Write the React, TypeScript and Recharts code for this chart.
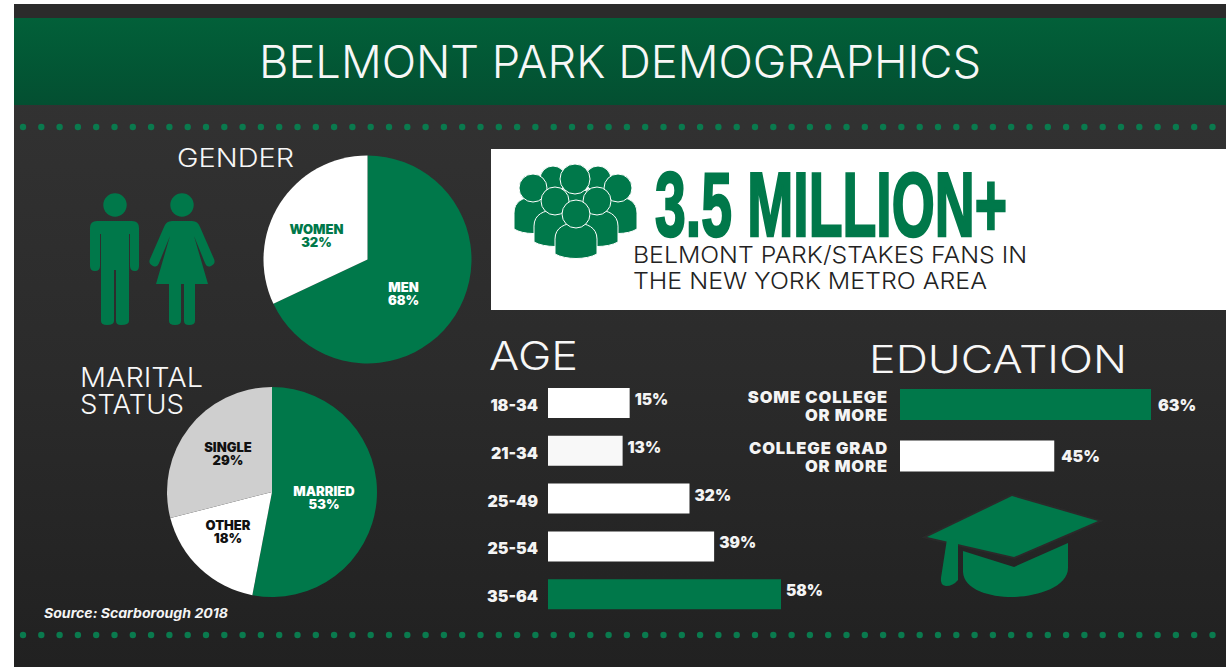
import React from "react";
import { PieChart, Pie, Cell, BarChart, Bar, XAxis, YAxis, LabelList } from "recharts";

const GENDER_NAMES = ["MEN", "WOMEN"];
const GENDER_VALUES = [68, 32];
const MARITAL_NAMES = ["MARRIED", "OTHER", "SINGLE"];
const MARITAL_VALUES = [53, 18, 29];
const AGE_RANGES = ["18-34", "21-34", "25-49", "25-54", "35-64"];
const AGE_VALUES = [15, 13, 32, 39, 58];
const EDU_LEVELS = ["SOME COLLEGE OR MORE", "COLLEGE GRAD OR MORE"];
const EDU_VALUES = [63, 45];

const GREEN = "#00784a";
const FONT = "Inter, 'Open Sans', sans-serif";

const GENDER_COLORS = [GREEN, "#ffffff"];
const GENDER_TEXT = ["#ffffff", GREEN];
const GENDER_LABEL_OFFSET = [[36, 34], [-51, -24]];
const MARITAL_COLORS = [GREEN, "#ffffff", "#cfcfcf"];
const MARITAL_TEXT = ["#ffffff", "#111111", "#111111"];
const MARITAL_LABEL_OFFSET = [[52, 6], [-44, 40], [-44, -38]];
const AGE_COLORS = ["#ffffff", "#f8f8f8", "#ffffff", "#ffffff", GREEN];
const EDU_COLORS = [GREEN, "#ffffff"];
const AGE_AXIS_MIN = -8.2;
const EDU_AXIS_MIN = 16.3;
const NO_MARGIN = { top: 0, right: 0, bottom: 0, left: 0 };

const genderData = GENDER_NAMES.map((name, i) => ({ name, value: GENDER_VALUES[i] }));
const maritalData = MARITAL_NAMES.map((name, i) => ({ name, value: MARITAL_VALUES[i] }));
const ageData = AGE_RANGES.map((range, i) => ({ range, value: AGE_VALUES[i] }));
const eduData = EDU_LEVELS.map((level, i) => ({ level, value: EDU_VALUES[i] }));

const pieLabel = (offsets: number[][], colors: string[]) => (p: any) => {
  const [dx, dy] = offsets[p.index];
  return (
    <text
      x={p.cx + dx}
      y={p.cy + dy}
      textAnchor="middle"
      fontFamily={FONT}
      fontWeight={900}
      fontSize={13}
      fill={colors[p.index]}
    >
      <tspan x={p.cx + dx} dy={-2}>{p.name}</tspan>
      <tspan x={p.cx + dx} dy={13}>{p.value}%</tspan>
    </text>
  );
};

const AgeTick = (p: any) => (
  <text x={p.x - 2} y={p.y + 8} textAnchor="end" fontFamily={FONT} fontWeight={900} fontSize={16} fill="#f4f4f4">
    {p.payload.value}
  </text>
);

const EduTick = (p: any) => {
  const text: string = p.payload.value;
  const cut = text.indexOf(" OR MORE");
  return (
    <text textAnchor="end" fontFamily={FONT} fontWeight={900} fontSize={16.5} letterSpacing={0.9} fill="#f4f4f4">
      <tspan x={p.x - 4} y={p.y - 2}>{text.slice(0, cut)}</tspan>
      <tspan x={p.x - 4} y={p.y + 16}>{text.slice(cut + 1)}</tspan>
    </text>
  );
};

const valueLabel = (gap: number, shift: number, size: number) => (p: any) => (
  <text
    x={p.x + p.width + gap}
    y={p.y + p.height / 2 + shift}
    fontFamily={FONT}
    fontWeight={900}
    fontSize={size}
    fill="#f4f4f4"
  >
    {p.value}%
  </text>
);

const Title = ({ x, y, w, size, children, fill = "#f7f7f7", weight = 300, anchor }: any) => (
  <text
    x={x}
    y={y}
    textLength={w}
    lengthAdjust="spacingAndGlyphs"
    fontFamily={FONT}
    fontWeight={weight}
    fontSize={size}
    fill={fill}
    textAnchor={anchor}
  >
    {children}
  </text>
);

const DOT_COUNT = 67;
const dotXs = Array.from({ length: DOT_COUNT }, (_, i) => 23 + i * 18.3);

const Person = ({ cx, headY, r, w, bottom }: any) => {
  const top = headY + r * 0.65;
  return (
    <g fill={GREEN} stroke="#ffffff" strokeWidth={1}>
      <path
        d={`M${cx - w},${bottom - 6} L${cx - w},${top + 16} C${cx - w},${top + 4} ${cx - w * 0.5},${top} ${cx},${top} C${cx + w * 0.5},${top} ${cx + w},${top + 4} ${cx + w},${top + 16} L${cx + w},${bottom - 6} C${cx + w * 0.5},${bottom} ${cx - w * 0.5},${bottom} ${cx - w},${bottom - 6} Z`}
      />
      <circle cx={cx} cy={headY} r={r} />
    </g>
  );
};

const Decor = () => (
  <svg width={1226} height={667} style={{ position: "absolute", left: 0, top: 0 }}>
    <defs>
      <linearGradient id="bg" x1="0" y1="0" x2="0" y2="1">
        <stop offset="0" stopColor="#343434" />
        <stop offset="0.55" stopColor="#2b2b2b" />
        <stop offset="1" stopColor="#212121" />
      </linearGradient>
      <linearGradient id="banner" x1="0" y1="0" x2="0" y2="1">
        <stop offset="0" stopColor="#026039" />
        <stop offset="1" stopColor="#034f31" />
      </linearGradient>
    </defs>
    <rect x={14} y={4} width={1212} height={663} fill="url(#bg)" />
    <rect x={14} y={4} width={1212} height={14} fill="#2b2b2b" />
    <rect x={14} y={18} width={1212} height={87} fill="url(#banner)" />
    <Title x={259} y={78} w={722} size={45}>BELMONT PARK DEMOGRAPHICS</Title>
    {dotXs.map((x) => <circle key={"t" + x} cx={x} cy={127} r={3.2} fill="#0a7a4e" />)}
    {dotXs.map((x) => <circle key={"b" + x} cx={x} cy={635} r={3.2} fill="#0a7a4e" />)}

    <Title x={177} y={167} w={117} size={25}>GENDER</Title>
    <Title x={80} y={387} w={123} size={27}>MARITAL</Title>
    <Title x={80} y={414} w={104} size={27}>STATUS</Title>
    <Title x={489} y={370} w={89} size={39}>AGE</Title>
    <Title x={869} y={373} w={258} size={38}>EDUCATION</Title>
    <text x={44} y={618} fontFamily={FONT} fontWeight={700} fontStyle="italic" fontSize={13} fill="#f4f4f4" textLength={184} lengthAdjust="spacingAndGlyphs">
      Source: Scarborough 2018
    </text>

    {/* man */}
    <g fill={GREEN}>
      <circle cx={115} cy={205} r={11.7} />
      <path d="M97,221 H132 Q139,221 139,228 V266 Q139,271 135,271 Q130,271 130,266 V234 H129 V321 Q129,325 121,325 Q116,325 116,321 V270 H114 V321 Q114,325 107,325 Q101,325 101,321 V234 H100 V266 Q100,271 95,271 Q90,271 90,266 V228 Q90,221 97,221 Z" />
    </g>
    {/* woman */}
    <g fill={GREEN}>
      <circle cx={182} cy={205} r={11.7} />
      <path d="M172,221 H192 Q198,221 200,227 L214,259 Q216,264 211,266 Q207,268 205,263 L194,236 L208,284 H195 V321 Q195,325 189,325 Q184,325 184,321 V284 H181 V321 Q181,325 175,325 Q169,325 169,321 V284 H156 L170,236 L159,263 Q157,268 153,266 Q148,264 150,259 L164,227 Q166,221 172,221 Z" />
    </g>

    <rect x={491} y={149} width={735} height={161} fill="#ffffff" />
    <Person cx={553} headY={179} r={13} w={19} bottom={226} />
    <Person cx={598} headY={179} r={13} w={19} bottom={226} />
    <Person cx={533} headY={188} r={14} w={19} bottom={235} />
    <Person cx={618} headY={188} r={14} w={19} bottom={235} />
    <Person cx={575} headY={179} r={15} w={20} bottom={232} />
    <Person cx={555} headY={201} r={14} w={21} bottom={248} />
    <Person cx={597} headY={201} r={14} w={21} bottom={248} />
    <Person cx={576} headY={214} r={14} w={21} bottom={260} />
    <text x={655} y={236} textLength={352} lengthAdjust="spacingAndGlyphs" fontFamily="'Liberation Sans Narrow', 'Liberation Sans', sans-serif" fontWeight={700} fontSize={90} fill={GREEN} stroke={GREEN} strokeWidth={2.5}>
      3.5 MILLION+
    </text>
    <Title x={633} y={263} w={394} size={23} fill="#222222">BELMONT PARK/STAKES FANS IN</Title>
    <Title x={633} y={289} w={354} size={23} fill="#222222">THE NEW YORK METRO AREA</Title>

    {/* graduation cap */}
    <path d="M963,551 L1014,567 L1068,543 L1068,568 C1068,588 1034,597 1012,597 C990,597 964,590 963,572 Z" fill={GREEN} />
    <path d="M1012,496 L1098,521 L1014,557 L927,537 Z" fill={GREEN} stroke="#2a2a2a" strokeWidth={4} paintOrder="stroke" />
    <path d="M947,539 L958,540 L958,580 Q953,586 946,586 Q940,585 941,578 Z" fill={GREEN} />
  </svg>
);

export default function App() {
  return (
    <div style={{ position: "absolute", left: 0, top: 0, width: 1226, height: 667, background: "#ffffff", overflow: "hidden" }}>
      <Decor />
      <div style={{ position: "absolute", left: 258, top: 150 }}>
        <PieChart width={220} height={220} margin={NO_MARGIN}>
          <Pie data={genderData} dataKey="value" nameKey="name" cx={109.5} cy={109.5} outerRadius={104} startAngle={90} endAngle={-270} stroke="none" labelLine={false} label={pieLabel(GENDER_LABEL_OFFSET, GENDER_TEXT)} isAnimationActive={false}>
            {genderData.map((d, i) => <Cell key={d.name} fill={GENDER_COLORS[i]} />)}
          </Pie>
        </PieChart>
      </div>
      <div style={{ position: "absolute", left: 162, top: 382 }}>
        <PieChart width={220} height={220} margin={NO_MARGIN}>
          <Pie data={maritalData} dataKey="value" nameKey="name" cx={110} cy={110} outerRadius={105} startAngle={90} endAngle={-270} stroke="none" labelLine={false} label={pieLabel(MARITAL_LABEL_OFFSET, MARITAL_TEXT)} isAnimationActive={false}>
            {maritalData.map((d, i) => <Cell key={d.name} fill={MARITAL_COLORS[i]} />)}
          </Pie>
        </PieChart>
      </div>
      <div style={{ position: "absolute", left: 470, top: 370 }}>
        <BarChart width={380} height={260} layout="vertical" data={ageData} margin={{ top: 9, right: 69, bottom: 12, left: 0 }} barCategoryGap={0}>
          <XAxis type="number" hide domain={[AGE_AXIS_MIN, 58]} />
          <YAxis type="category" dataKey="range" width={78} axisLine={false} tickLine={false} tick={AgeTick} interval={0} />
          <Bar dataKey={(d: any) => [AGE_AXIS_MIN, d.value]} barSize={30} isAnimationActive={false}>
            {ageData.map((d, i) => <Cell key={d.range} fill={AGE_COLORS[i]} />)}
            <LabelList dataKey="value" content={valueLabel(5, 2, 15.5)} />
          </Bar>
        </BarChart>
      </div>
      <div style={{ position: "absolute", left: 720, top: 370 }}>
        <BarChart width={506} height={120} layout="vertical" data={eduData} margin={{ top: 9, right: 75, bottom: 8, left: 0 }} barCategoryGap={0}>
          <XAxis type="number" hide domain={[EDU_AXIS_MIN, 63]} />
          <YAxis type="category" dataKey="level" width={180} axisLine={false} tickLine={false} tick={EduTick} interval={0} />
          <Bar dataKey="value" barSize={31} isAnimationActive={false}>
            {eduData.map((d, i) => <Cell key={d.level} fill={EDU_COLORS[i]} />)}
            <LabelList dataKey="value" content={valueLabel(7, 6, 16)} />
          </Bar>
        </BarChart>
      </div>
    </div>
  );
}
